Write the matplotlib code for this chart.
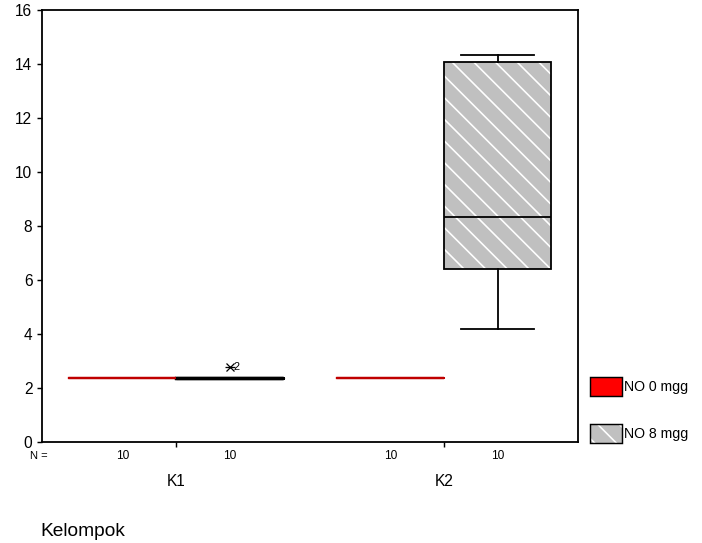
import matplotlib
matplotlib.use("Agg")
import matplotlib.pyplot as plt
from matplotlib.patches import Patch
from matplotlib.transforms import blended_transform_factory

plt.rcParams['font.family'] = ['Liberation Sans', 'DejaVu Sans']
plt.rcParams['hatch.linewidth'] = 0.9

# ---- data ----
groups = ["K1", "K2"]
series = ["NO 0 mgg", "NO 8 mgg"]
counts = [10, 10, 10, 10]
# per box (K1-NO0, K1-NO8, K2-NO0, K2-NO8)
q1 = [2.37, 2.37, 2.37, 6.42]
med = [2.37, 2.37, 2.37, 8.33]
q3 = [2.37, 2.37, 2.37, 14.08]
whislo = [2.37, 2.37, 2.37, 4.2]
whishi = [2.37, 2.37, 2.37, 14.33]
fliers = [[], [2.78], [], []]
flier_ids = [[], ["2"], [], []]
yticks = [0, 2, 4, 6, 8, 10, 12, 14, 16]

DPI = 130
fig = plt.figure(figsize=(702 / DPI, 543 / DPI), dpi=DPI)
W, H = 702, 543
ax = fig.add_axes([42 / W, 1 - 442 / H, (578 - 42) / W, (442 - 10) / H])

positions = [0.3, 0.7, 1.3, 1.7]
stats = []
for i in range(4):
    stats.append(dict(med=med[i], q1=q1[i], q3=q3[i], whislo=whislo[i],
                      whishi=whishi[i], fliers=fliers[i], label=""))

red_line = "#c00000"
for i in range(4):
    s = stats[i]
    is_no0 = (i % 2 == 0)
    degenerate = s["q1"] == s["q3"]
    if degenerate:
        col = red_line if is_no0 else "black"
        lw = 1.2 if is_no0 else 1.8
        ax.bxp([s], positions=[positions[i]], widths=0.4, showcaps=False,
               boxprops=dict(color=col, linewidth=lw),
               whiskerprops=dict(color=col, linewidth=lw),
               medianprops=dict(color=col, linewidth=lw),
               flierprops=dict(marker="x", markersize=4.5, markeredgecolor="black",
                               markeredgewidth=0.7),
               manage_ticks=False)
    else:
        # hatched fill layer
        ax.bxp([s], positions=[positions[i]], widths=0.4, patch_artist=True,
               showcaps=False, showfliers=False,
               boxprops=dict(facecolor="#c0c0c0", edgecolor="white",
                             hatch="\\\\", linewidth=0),
               whiskerprops=dict(linewidth=0),
               medianprops=dict(linewidth=0),
               manage_ticks=False)
        # outline layer
        ax.bxp([s], positions=[positions[i]], widths=0.4, patch_artist=True,
               capwidths=0.27,
               boxprops=dict(facecolor="none", edgecolor="black", linewidth=1.0),
               whiskerprops=dict(color="black", linewidth=1.0),
               capprops=dict(color="black", linewidth=1.0),
               medianprops=dict(color="black", linewidth=1.0),
               manage_ticks=False)
    # extra horizontal stroke for asterisk fliers + id labels
    for v, lab in zip(fliers[i], flier_ids[i]):
        ax.plot([positions[i]], [v], marker="_", markersize=6, color="black",
                markeredgewidth=0.7)
        ax.text(positions[i] + 0.014, v, lab, fontsize=6.0, va="center", ha="left")

ax.set_xlim(0, 2)
ax.set_ylim(0, 16)
ax.set_yticks(yticks)
ax.set_yticklabels([str(t) for t in yticks], fontsize=8.6)
ax.set_xticks([0.5, 1.5])
ax.set_xticklabels(groups, fontsize=8.6)
ax.tick_params(axis="y", length=2.8, width=0.8, pad=2.5)
ax.tick_params(axis="x", length=2.8, width=0.8, pad=15)
for sp in ax.spines.values():
    sp.set_linewidth(1.0)

trans = blended_transform_factory(ax.transData, ax.transAxes)
fig.text(30 / W, 1 - 456 / H, "N =", fontsize=6.2, ha="left", va="center")
for p, c in zip(positions, counts):
    ax.text(p, -0.033, str(c), fontsize=6.6, ha="center", va="center",
            transform=trans)

fig.text(40 / W, 1 - 531 / H, "Kelompok", fontsize=10.6, ha="left", va="center")

red_h = Patch(facecolor="red", edgecolor="black", linewidth=0.8)
gray_fill = Patch(facecolor="#c0c0c0", edgecolor="white", hatch="\\\\", linewidth=0)
gray_edge = Patch(facecolor="none", edgecolor="black", linewidth=0.8)
handles = [red_h, (gray_fill, gray_edge)]
leg = fig.legend(handles, series, loc="upper left",
                 bbox_to_anchor=(590 / W, 1 - 377 / H), frameon=False,
                 fontsize=7.8, handlelength=2.25, handleheight=1.65,
                 handletextpad=0.15, labelspacing=2.05, borderpad=0,
                 borderaxespad=0)

fig.savefig("out.png", dpi=DPI)
